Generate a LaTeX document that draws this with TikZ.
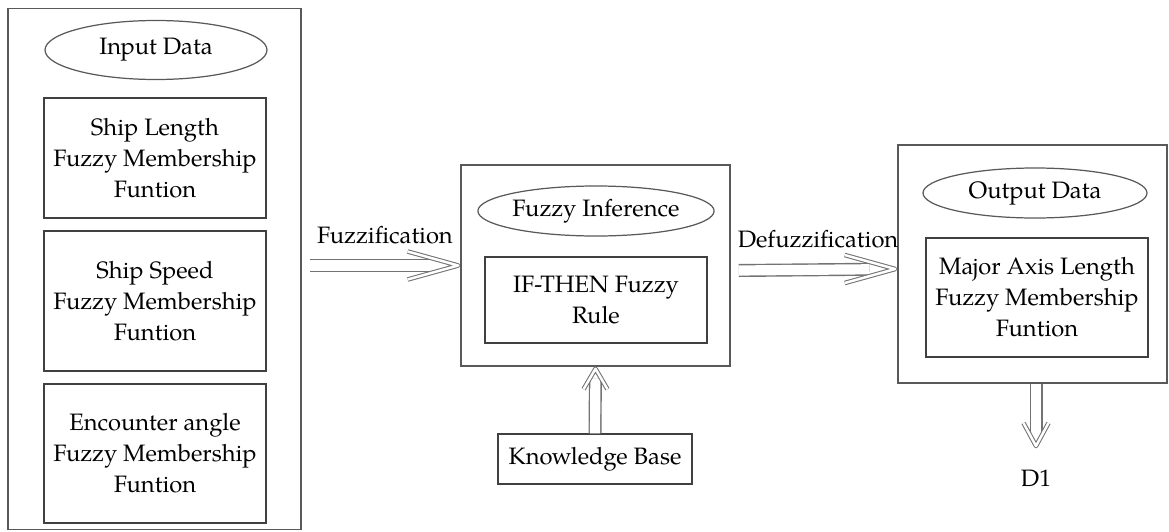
\documentclass[tikz,border=0pt]{standalone}
\usepackage{fontspec}
\setmainfont{texgyrepagella-regular.otf}
\usetikzlibrary{shapes.geometric}

\begin{document}
\begin{tikzpicture}
	[	frame/.style={rectangle,draw=black!65,line width=0.9pt},
	box/.style={rectangle,draw=black!75,line width=0.7pt,minimum width=4.44cm,align=center},
	oval/.style={ellipse,draw=black!65,line width=0.7pt,inner sep=0pt,minimum width=4.44cm,minimum height=1cm},
	plain/.style={draw=none,fill=none},
	dbl/.style={double=white,draw=black!55,line width=0.8pt,double distance=5.8pt},
	tipline/.style={double=white,draw=black!55,line width=0.6pt,double distance=1.4pt,line join=round},
	pics/head/.style args={#1/#2}{code={\draw[tipline] (-#1,#2) -- (-0.04,0) -- (-#1,-#2);}},
	font=\fontsize{13.5}{17.6}\selectfont
	]
	\useasboundingbox (0,0) rectangle (23.38,-10.62);
	% input side
	\node[frame,minimum width=5.86cm,minimum height=10.42cm] (inbox) at (3.09,-5.38){};
	\node[oval,minimum height=1.18cm] (indata) at (3.12,-1.0){Input Data};
	\node[box,minimum height=2.4cm] (len) at (3.10,-3.16){Ship Length\\Fuzzy Membership\\Funtion};
	\node[box,minimum height=2.8cm] (speed) at (3.10,-6.02){Ship Speed\\Fuzzy Membership\\Funtion};
	\node[box,minimum height=2.78cm] (angle) at (3.10,-9.07){Encounter angle\\Fuzzy Membership\\Funtion};

	% inference
	\node[frame,minimum width=5.38cm,minimum height=4.02cm] (infbox) at (11.91,-5.31){};
	\node[oval] (inf) at (11.92,-4.22){Fuzzy Inference};
	\node[box,minimum height=1.72cm] (rule) at (11.92,-6.0){IF-THEN Fuzzy\\Rule};
	\node[box,minimum width=3.88cm,minimum height=1cm] (kb) at (11.9,-9.18){Knowledge Base};

	% output side
	\node[frame,minimum width=5.38cm,minimum height=4.76cm] (outbox) at (20.65,-5.28){};
	\node[oval,minimum width=4.48cm] (outdata) at (20.7,-3.86){Output Data};
	\node[box,minimum height=2.38cm] (axis) at (20.74,-5.95){Major Axis Length\\Fuzzy Membership\\Funtion};
	\node[plain] (d1) at (20.72,-9.56){D1};
	\coordinate (d1tip) at (20.72,-8.96);

	% arrows
	\draw[dbl,shorten >=0.55cm] ([xshift=0.16cm]inbox.east |- infbox.west) -- node[above,yshift=3mm]{Fuzzification} (infbox.west);
	\pic at (infbox.west) {head={1.05/0.28}};
	\draw[dbl,shorten >=0.55cm] ([xshift=0.16cm,yshift=-0.1cm]infbox.east) -- node[above,yshift=3mm]{Defuzzification} ([yshift=-0.1cm]outbox.west);
	\pic at ([yshift=-0.1cm]outbox.west) {head={1.05/0.28}};
	\draw[dbl,shorten >=0.24cm] (kb.north) -- (infbox.south);
	\pic[rotate=90] at (infbox.south) {head={0.45/0.24}};
	\draw[dbl,shorten >=0.24cm] (outbox.south -| d1tip) -- (d1tip);
	\pic[rotate=-90] at (d1tip) {head={0.5/0.25}};
\end{tikzpicture}
\end{document}
